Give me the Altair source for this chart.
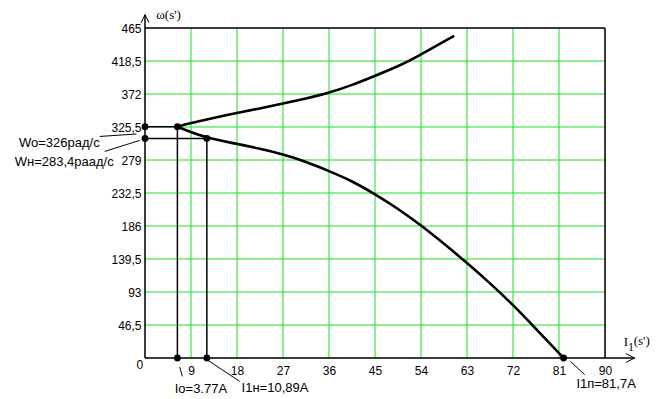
import altair as alt
import pandas as pd

# ---- data ----
x_ticks = [9, 18, 27, 36, 45, 54, 63, 72, 81, 90]
y_ticks = [46.5, 93, 139.5, 186, 232.5, 279, 325.5, 372, 418.5, 465]

upper_x = [6.34, 9, 12, 18, 22.4, 27, 31.5, 36, 40.5, 45, 49.8, 52.4, 60.5]
upper_y = [325.9, 331, 336, 345.5, 351.5, 358.5, 365.5, 373.5, 384.5, 397.5, 412, 421, 454]
lower_x = [6.34, 12.1, 18, 22.4, 27, 31.5, 36, 40.5, 45, 49.5, 54, 58.5, 63, 67.5, 72, 76.5, 81.9]
lower_y = [325.9, 309.4, 302, 295, 287, 276.5, 263.5, 249.5, 231, 210.5, 187, 161, 134, 105.5, 75, 41, 0]

w0, wn = 325.9, 309.4            # omega markers
i0, i1n, i1p = 6.34, 12.1, 81.9  # current markers

ann_text = ["Wo=326рад/с", "Wн=283,4раад/с", "Io=3.77A", "I1н=10,89A", "I1п=81,7A"]
ann_x = [-8.86, -6.12, 5.81, 18.9, 84.4]
ann_y = [303.4, 276.6, -43.3, -42.5, -36.2]
ann_align = ["right", "right", "left", "left", "left"]

lead_x = [-8.86, -7.88, 6.79, 12.33, 83.23]
lead_x2 = [-1.68, -1.04, 7.32, 18.53, 86.03]
lead_y = [312.2, 291.1, -12.7, -3.4, -4.8]
lead_y2 = [315.6, 306.6, -25.9, -33.0, -23.5]

x_axis_end, y_axis_end = 95.8, 483.7
X_MAX, Y_MAX = 90, 465

GREEN = "#1fe01f"
FONT = "Liberation Sans"
SERIF = "Liberation Serif"

xs = alt.Scale(domain=[0, X_MAX], nice=False, zero=False)
ys = alt.Scale(domain=[0, Y_MAX], nice=False, zero=False)
xaxis = alt.Axis(values=x_ticks, grid=False, domain=False, ticks=False, title=None,
                 labelFont=FONT, labelFontSize=12, labelColor="black", labelPadding=7,
                 labelFlush=False, labelOverlap=False)
yaxis = alt.Axis(values=y_ticks, grid=False, domain=False, ticks=False, title=None,
                 labelFont=FONT, labelFontSize=12, labelColor="black", labelPadding=4,
                 labelExpr="replace(toString(datum.value), '.', ',')",
                 labelFlush=False, labelOverlap=False)


def X(f):
    return alt.X(f, type="quantitative", scale=xs, axis=xaxis)


def Y(f):
    return alt.Y(f, type="quantitative", scale=ys, axis=yaxis)


# grid
vgrid = pd.DataFrame({"x": x_ticks[:-1], "y": 0, "y2": Y_MAX})
hgrid = pd.DataFrame({"y": y_ticks[:-1], "x": 0, "x2": X_MAX})
grid_v = alt.Chart(vgrid).mark_rule(color=GREEN, strokeWidth=1).encode(x=X("x"), y=Y("y"), y2=alt.Y2("y2"))
grid_h = alt.Chart(hgrid).mark_rule(color=GREEN, strokeWidth=1).encode(y=Y("y"), x=X("x"), x2=alt.X2("x2"))

# frame + axes lines
frame = pd.DataFrame({
    "x": [0, X_MAX, 0, 0],
    "x2": [X_MAX, X_MAX, x_axis_end, 0],
    "y": [Y_MAX, 0, 0, 0],
    "y2": [Y_MAX, Y_MAX, 0, y_axis_end],
})
frame_l = alt.Chart(frame).mark_rule(color="black", strokeWidth=1.5).encode(
    x=X("x"), x2=alt.X2("x2"), y=Y("y"), y2=alt.Y2("y2"))

# arrowheads
arr_up = alt.Chart(pd.DataFrame({"x": [0], "y": [y_axis_end]})).mark_point(
    shape="M -1 2 L 0 0 L 1 2", size=64, filled=False, color="black", strokeWidth=1, opacity=1
).encode(x=X("x"), y=Y("y"))
arr_right = alt.Chart(pd.DataFrame({"x": [x_axis_end], "y": [0]})).mark_point(
    shape="M -2.2 -1.1 L 0 0 L -2.2 1.1", size=64, filled=False, color="black", strokeWidth=1, opacity=1
).encode(x=X("x"), y=Y("y"))

# construction lines
cons = pd.DataFrame({
    "x": [0, 0, i0, i1n],
    "x2": [i0, i1n, i0, i1n],
    "y": [w0, wn, 0, 0],
    "y2": [w0, wn, w0, wn],
})
cons_l = alt.Chart(cons).mark_rule(color="black", strokeWidth=1.5).encode(
    x=X("x"), x2=alt.X2("x2"), y=Y("y"), y2=alt.Y2("y2"))

# curves
curves = pd.DataFrame({
    "x": upper_x + lower_x,
    "y": upper_y + lower_y,
    "branch": ["upper"] * len(upper_x) + ["lower"] * len(lower_x),
    "o": list(range(len(upper_x))) + list(range(len(lower_x))),
})
curve_l = alt.Chart(curves).mark_line(color="black", strokeWidth=2.6, interpolate="basis").encode(
    x=X("x"), y=Y("y"), detail="branch:N", order="o:Q")

# dots
dots = pd.DataFrame({
    "x": [0, 0, i0, i1n, i0, i1n, i1p],
    "y": [w0, wn, w0, wn, 0, 0, 0],
})
dot_l = alt.Chart(dots).mark_circle(color="black", size=46, opacity=1).encode(x=X("x"), y=Y("y"))

# leader lines
leads = pd.DataFrame({"x": lead_x, "x2": lead_x2, "y": lead_y, "y2": lead_y2})
lead_l = alt.Chart(leads).mark_rule(color="black", strokeWidth=1).encode(
    x=X("x"), x2=alt.X2("x2"), y=Y("y"), y2=alt.Y2("y2"))

# annotation texts
ann = pd.DataFrame({"t": ann_text, "x": ann_x, "y": ann_y, "a": ann_align})
ann_r = alt.Chart(ann[ann.a == "right"]).mark_text(
    align="right", baseline="middle", font=FONT, fontSize=13, color="black").encode(
    x=X("x"), y=Y("y"), text="t:N")
ann_lft = alt.Chart(ann[ann.a == "left"]).mark_text(
    align="left", baseline="middle", font=FONT, fontSize=13, color="black").encode(
    x=X("x"), y=Y("y"), text="t:N")

zero_l = alt.Chart(pd.DataFrame({"t": ["0"], "x": [-1.03], "y": [-9.4]})).mark_text(
    align="center", baseline="middle", font=FONT, fontSize=12, color="black").encode(
    x=X("x"), y=Y("y"), text="t:N")

# axis titles
ttl_w = alt.Chart(pd.DataFrame({"t": ["ω(s')"], "x": [2.2], "y": [491.5]})).mark_text(
    align="left", baseline="top", font=SERIF, fontSize=13, color="black").encode(
    x=X("x"), y=Y("y"), text="t:N")
ttl = pd.DataFrame({"t": ["I", "(s')"], "x": [93.66, 95.62], "y": [23.0, 23.6]})
ttl_l = alt.Chart(ttl).mark_text(align="left", baseline="middle", font=SERIF, fontSize=13,
                                 color="black").encode(x=X("x"), y=Y("y"), text="t:N")
sub_l = alt.Chart(pd.DataFrame({"t": ["1"], "x": [94.5], "y": [15.9]})).mark_text(
    align="left", baseline="middle", font=SERIF, fontSize=12, color="black").encode(
    x=X("x"), y=Y("y"), text="t:N")

chart = alt.layer(
    grid_v, grid_h, frame_l, cons_l, curve_l, dot_l, lead_l, arr_up, arr_right,
    ann_r, ann_lft, zero_l, ttl_w, ttl_l, sub_l
).properties(
    width=460, height=330,
    autosize=alt.AutoSizeParams(type="none"),
    padding={"left": 137, "top": 20, "right": 49, "bottom": 40},
).configure_view(strokeWidth=0).configure(background="white")

chart.save("out.html", embed_options={"renderer": "svg", "actions": False})
